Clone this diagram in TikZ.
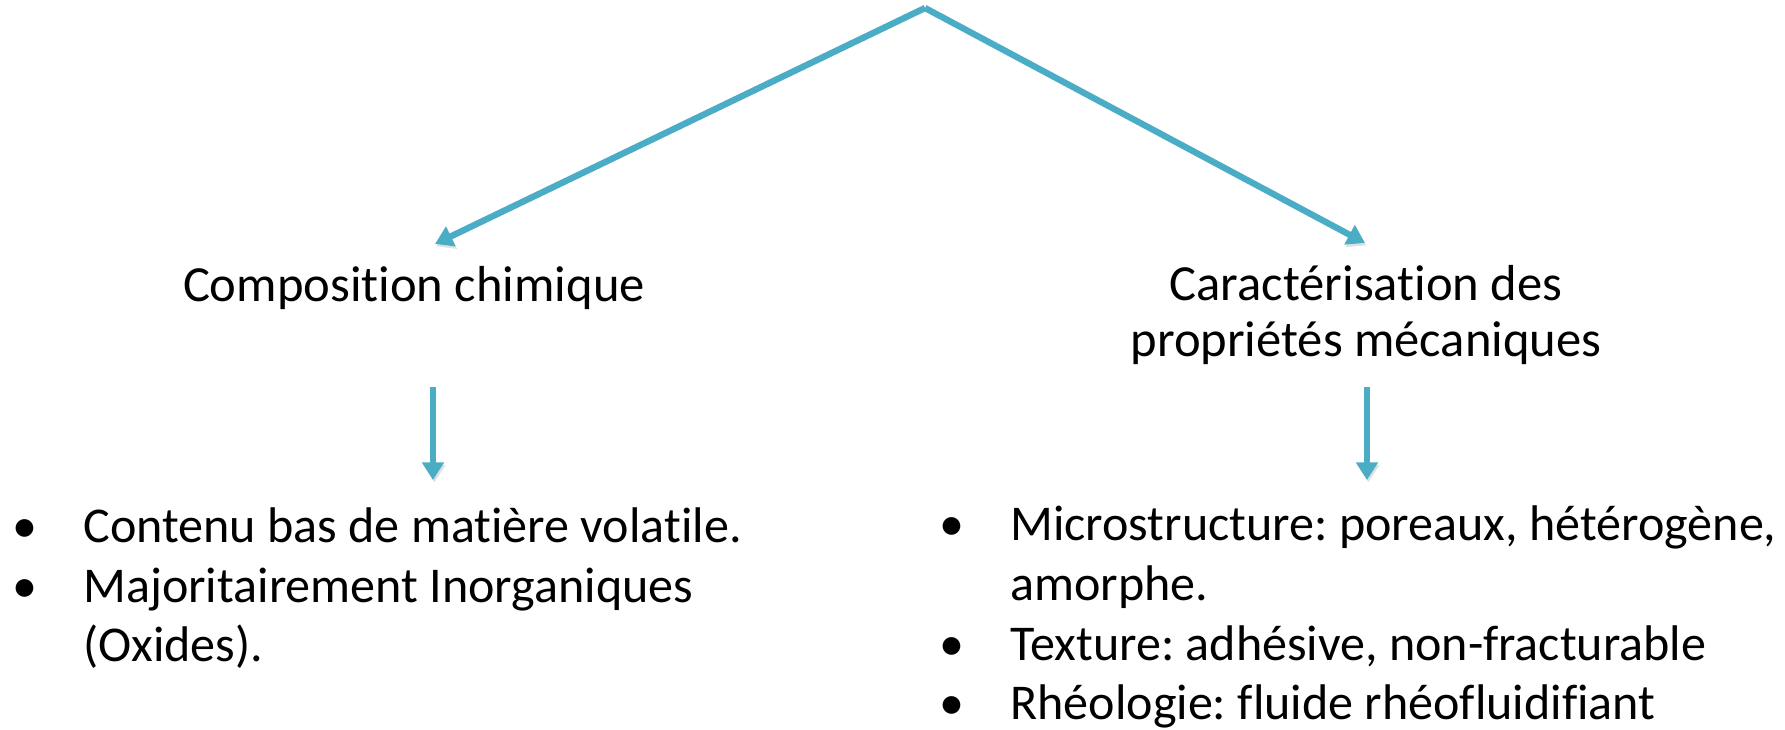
\documentclass[tikz,border=0pt]{standalone}
\usepackage{fontspec}
\setmainfont{Carlito}[Ligatures=NoCommon]
\usetikzlibrary{arrows.meta,positioning}
\definecolor{bleu}{HTML}{4BACC6}
\tikzset{
    fleche/.style={-{Triangle[length=10pt,width=12pt]}, line width=3.6pt, draw=bleu,
        preaction={draw=black!12, transform canvas={xshift=0.8pt,yshift=-1.4pt}}}, % arrows with a soft shadow
    titre/.style={font=\fontsize{28.8}{32.4}\selectfont, align=center, inner sep=0pt},
    liste/.style={font=\fontsize{28.5}{34.1}\selectfont, align=left, inner sep=0pt},
}
\newcommand\puce{\llap{\textbullet\hspace{26pt}}}
\frenchspacing

\begin{document}
\begin{tikzpicture}[x=0.02cm,y=0.02cm]
  \useasboundingbox (0,0) rectangle (1785,730);

  % titles (base = last line)
  \coordinate (top) at (925,722);
  \node[titre,anchor=base] (compo) at (414,428) {Composition chimique};
  \node[titre,anchor=base] (meca) at (1366,373) {Caractérisation des\\propriétés mécaniques};

  % arrow ends
  \coordinate (gauche) at (435,486);
  \coordinate (droite) at (1365,487);
  \coordinate (g1) at (433,343);
  \coordinate (g2) at (433,250);
  \coordinate (d1) at (1367,343);
  \coordinate (d2) at (1367,250);

  % lists
  \node[liste,anchor=base west] (chimie) at (83,68)
    {\puce Contenu bas de matière volatile.\\
     \puce Majoritairement Inorganiques\\
     (Oxides).};
  \node[liste,anchor=base west] (props) at (1010,10)
    {\puce Microstructure: poreaux, hétérogène,\\
     amorphe.\\
     \puce Texture: adhésive, non-fracturable\\
     \puce Rhéologie: fluide rhéofluidifiant};

  \draw[fleche] (top) -- (gauche);
  \draw[fleche] (top) -- (droite);
  \draw[fleche] (g1) -- (g2);
  \draw[fleche] (d1) -- (d2);
\end{tikzpicture}
\end{document}
